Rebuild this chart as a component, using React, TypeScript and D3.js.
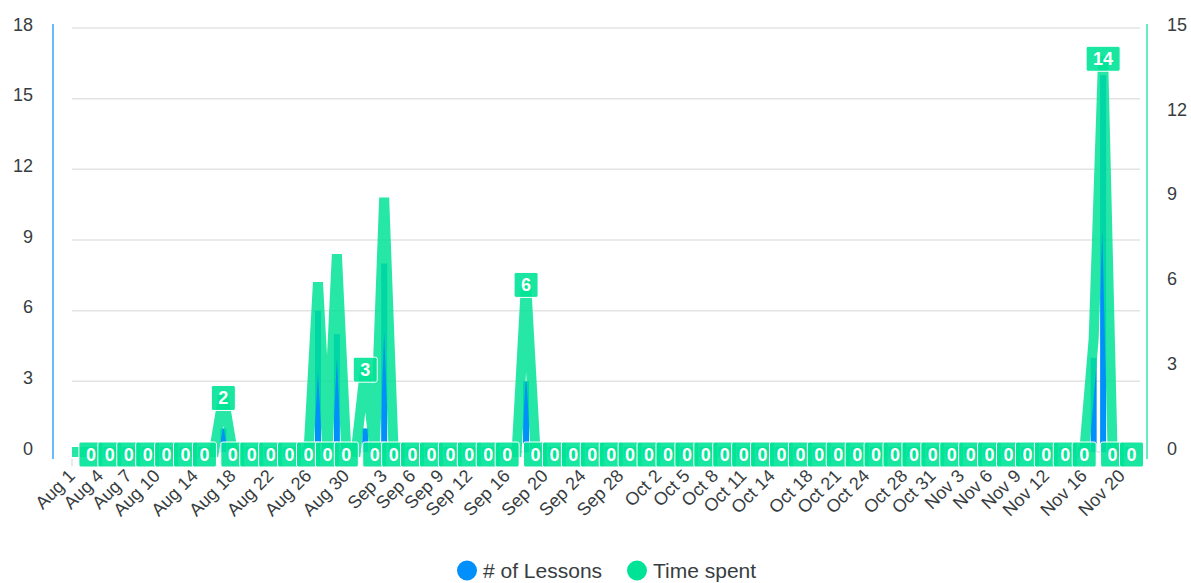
import React from "react";
import * as d3 from "d3";

// Daily values, one entry per day of each month shown.
const lessonsAug = [0, 0, 0, 0, 0, 0, 0, 0, 0, 0, 0, 0, 0, 0, 0, 0, 1, 0, 0, 0, 0, 0, 0, 0, 0, 0, 6, 0, 5, 0, 0];
const lessonsSep = [1, 0, 8, 0, 0, 0, 0, 0, 0, 0, 0, 0, 0, 0, 0, 0, 0, 3, 0, 0, 0, 0, 0, 0, 0, 0, 0, 0, 0, 0];
const lessonsOct = [0, 0, 0, 0, 0, 0, 0, 0, 0, 0, 0, 0, 0, 0, 0, 0, 0, 0, 0, 0, 0, 0, 0, 0, 0, 0, 0, 0, 0, 0, 0];
const lessonsNov = [0, 0, 0, 0, 0, 0, 0, 0, 0, 0, 0, 0, 0, 0, 0, 0, 4, 16, 0, 0, 0];

const timeAug = [0, 0, 0, 0, 0, 0, 0, 0, 0, 0, 0, 0, 0, 0, 0, 0, 2, 0, 0, 0, 0, 0, 0, 0, 0, 0, 6, 0, 7, 0, 0];
const timeSep = [3, 0, 9, 0, 0, 0, 0, 0, 0, 0, 0, 0, 0, 0, 0, 0, 0, 6, 0, 0, 0, 0, 0, 0, 0, 0, 0, 0, 0, 0];
const timeOct = [0, 0, 0, 0, 0, 0, 0, 0, 0, 0, 0, 0, 0, 0, 0, 0, 0, 0, 0, 0, 0, 0, 0, 0, 0, 0, 0, 0, 0, 0, 0];
const timeNov = [0, 0, 0, 0, 0, 0, 0, 0, 0, 0, 0, 0, 0, 0, 0, 0, 4, 14, 0, 0, 0];

const lessons = [...lessonsAug, ...lessonsSep, ...lessonsOct, ...lessonsNov];
const timeSpent = [...timeAug, ...timeSep, ...timeOct, ...timeNov];

const firstDay = new Date(Date.UTC(2023, 7, 1));
const lastDay = new Date(Date.UTC(2023, 10, 21));

const xTickLabels = [
  "Aug 1", "Aug 4", "Aug 7", "Aug 10", "Aug 14", "Aug 18", "Aug 22", "Aug 26", "Aug 30",
  "Sep 3", "Sep 6", "Sep 9", "Sep 12", "Sep 16", "Sep 20", "Sep 24", "Sep 28",
  "Oct 2", "Oct 5", "Oct 8", "Oct 11", "Oct 14", "Oct 18", "Oct 21", "Oct 24", "Oct 28", "Oct 31",
  "Nov 3", "Nov 6", "Nov 9", "Nov 12", "Nov 16", "Nov 20",
];
const leftTicks = [0, 3, 6, 9, 12, 15, 18];
const rightTicks = [0, 3, 6, 9, 12, 15];
const seriesNames = ["# of Lessons", "Time spent"];

const BLUE = "#008FFB";
const GREEN = "#00E396";
const TEXT = "#373d3f";
const FONT = "'Liberation Sans', Arial, Helvetica, sans-serif";

const W = 1191;
const H = 583;
const GRID_LEFT = 72;
const GRID_RIGHT = 1140;
const GRID_TOP = 28;
const GRID_BOTTOM = 452;

const LABEL_FS = 18;
const LABEL_PAD = 7;
const LABEL_H = 25;

type DataLabel = { x: number; cy: number; text: string; textW: number; w: number };

export default function App() {
  const dates = d3.utcDay.range(firstDay, d3.utcDay.offset(lastDay, 1));
  const parse = d3.utcParse("%b %d %Y");

  const x = d3.scaleUtc().domain([firstDay, lastDay]).range([GRID_LEFT, 1131.5]);
  const yL = d3.scaleLinear().domain([0, 18]).range([GRID_BOTTOM, GRID_TOP]);
  const yR = d3.scaleLinear().domain([0, 15]).range([GRID_BOTTOM, GRID_TOP]);

  const linePath = d3
    .line<number>()
    .x((_, i) => x(dates[i]))
    .y((v) => yR(v))(timeSpent) as string;

  // Data labels: skip any label that would collide with the last one placed.
  const labels: DataLabel[] = [];
  let last: DataLabel | null = null;
  timeSpent.forEach((v, i) => {
    const text = String(v);
    const textW = text.length * LABEL_FS * 0.556;
    const cand: DataLabel = {
      x: x(dates[i]),
      cy: yR(v) + 2.5,
      text,
      textW,
      w: textW + LABEL_PAD * 2,
    };
    if (last === null) {
      last = cand;
      return;
    }
    const clearsX = Math.abs(cand.x - last.x) >= last.textW;
    const clearsY = Math.abs(cand.cy - last.cy) >= LABEL_H;
    if (clearsX || (v === 0 && clearsY)) {
      labels.push(cand);
      last = cand;
    }
  });

  const barW = 6;

  return (
    <svg
      width={W}
      height={H}
      style={{ position: "absolute", left: 0, top: 0, background: "#fff" }}
      fontFamily={FONT}
    >
      {/* grid */}
      <g>
        {leftTicks.map((t) => (
          <line
            key={t}
            x1={GRID_LEFT}
            x2={GRID_RIGHT}
            y1={yL(t)}
            y2={yL(t)}
            stroke="#e3e3e3"
            strokeWidth={1.5}
          />
        ))}
      </g>

      {/* y axes */}
      <line x1={53} x2={53} y1={24} y2={459} stroke={BLUE} strokeOpacity={0.6} strokeWidth={2} />
      <line x1={1147} x2={1147} y1={24} y2={459} stroke={GREEN} strokeOpacity={0.6} strokeWidth={2} />
      {leftTicks.map((t) => (
        <text key={t} x={33} y={yL(t) + 2.8} textAnchor="end" fontSize={18} fill={TEXT}>
          {t}
        </text>
      ))}
      {rightTicks.map((t) => (
        <text key={t} x={1167} y={yR(t) + 2.8} textAnchor="start" fontSize={18} fill={TEXT}>
          {t}
        </text>
      ))}

      {/* x axis ticks and labels */}
      {xTickLabels.map((lab) => {
        const d = parse(`${lab} 2023`) as Date;
        const px = x(d);
        return (
          <g key={lab}>
            <line x1={px} x2={px} y1={459} y2={466} stroke="#e0e0e0" strokeWidth={1.5} />
            <text
              transform={`translate(${px + 4},${477}) rotate(-45)`}
              textAnchor="end"
              fontSize={18}
              fill={TEXT}
            >
              {lab}
            </text>
          </g>
        );
      })}

      {/* lessons bars */}
      <g>
        {lessons.map((v, i) =>
          v > 0 ? (
            <rect
              key={i}
              x={x(dates[i]) - barW / 2}
              y={yL(v)}
              width={barW}
              height={GRID_BOTTOM - yL(v)}
              fill={BLUE}
            />
          ) : null
        )}
      </g>

      {/* time spent line */}
      <path d={linePath} fill="none" stroke={GREEN} strokeOpacity={0.85} strokeWidth={10} />

      {/* data labels */}
      <g>
        {labels.map((l, i) => (
          <g key={i}>
            <rect
              x={l.x - l.w / 2}
              y={l.cy - LABEL_H / 2}
              width={l.w}
              height={LABEL_H}
              rx={2}
              fill={GREEN}
              fillOpacity={0.9}
              stroke="#fff"
              strokeWidth={1}
            />
            <text
              x={l.x}
              y={l.cy + LABEL_FS * 0.36}
              textAnchor="middle"
              fontSize={LABEL_FS}
              fontWeight="bold"
              fill="#fff"
            >
              {l.text}
            </text>
          </g>
        ))}
      </g>

      {/* legend */}
      <g fontSize={21} fill={TEXT}>
        <circle cx={467} cy={570.5} r={10} fill={BLUE} />
        <text x={483} y={578}>
          {seriesNames[0]}
        </text>
        <circle cx={637} cy={570.5} r={10} fill={GREEN} />
        <text x={653} y={578}>
          {seriesNames[1]}
        </text>
      </g>
    </svg>
  );
}
